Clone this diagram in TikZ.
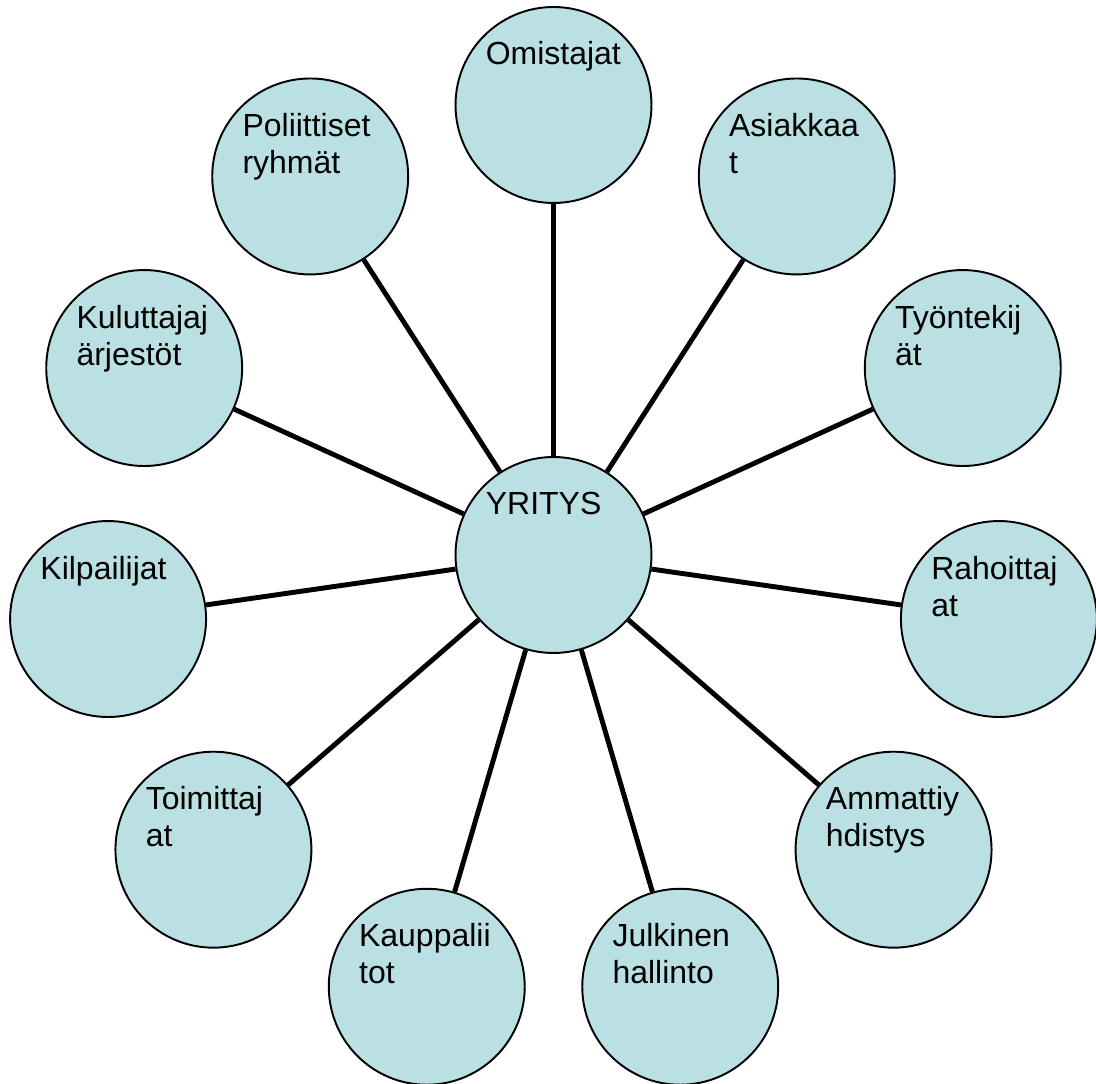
\documentclass[tikz,border=0pt]{standalone}
\usepackage{fontspec}
\setmainfont{Liberation Sans}
\usetikzlibrary{backgrounds}
\definecolor{partyfill}{RGB}{187,224,228}
\tikzset{%
  % circles of the stakeholders and of the firm
            party/.style = {circle, draw=black, line width=1.1pt,
                            fill=partyfill, minimum size=3.92cm, inner sep=0pt},
            partytext/.style = {anchor=base west, align=left, inner sep=0pt,
                            font=\fontsize{18.2}{21}\selectfont},
            twolines/.style = {yshift=-0.74cm},
            link/.style = {draw=black, line width=2.8pt}
}

\begin{document}
\begin{tikzpicture}[x=0.02cm, y=0.02cm]
                \useasboundingbox (-553.5,-529) rectangle (542.5,555);

                \node[party] (yritys) at (0,0) {};
                \node[party] (s1) at (90:450) {};
                \node[party] (s2) at (57.27:450) {};
                \node[party] (s3) at (24.55:450) {};
                \node[party] (s4) at (-8.18:450) {};
                \node[party] (s5) at (-40.91:450) {};
                \node[party] (s6) at (-73.64:450) {};
                \node[party] (s7) at (-106.36:450) {};
                \node[party] (s8) at (-139.09:450) {};
                \node[party] (s9) at (-171.82:450) {};
                \node[party] (s10) at (155.45:450) {};
                \node[party] (s11) at (122.73:450) {};

                \tikzset{every node/.style={partytext, shift={(-68,40)}}}
                \node (t0) at (yritys) {YRITYS};
                \node (t1) at (s1) {Omistajat};
                \node[twolines] (t2) at (s2) {Asiakkaa\\t};
                \node[twolines] (t3) at (s3) {Työntekij\\ät};
                \node[twolines] (t4) at (s4) {Rahoittaj\\at};
                \node[twolines] (t5) at (s5) {Ammattiy\\hdistys};
                \node[twolines] (t6) at (s6) {Julkinen\\hallinto};
                \node[twolines] (t7) at (s7) {Kauppalii\\tot};
                \node[twolines] (t8) at (s8) {Toimittaj\\at};
                \node (t9) at (s9) {Kilpailijat};
                \node[twolines] (t10) at (s10) {Kuluttajaj\\ärjestöt};
                \node[twolines] (t11) at (s11) {Poliittiset\\ryhmät};

                \begin{scope}[on background layer]
                \draw[link] (yritys) -- (s1);
                \draw[link] (yritys) -- (s2);
                \draw[link] (yritys) -- (s3);
                \draw[link] (yritys) -- (s4);
                \draw[link] (yritys) -- (s5);
                \draw[link] (yritys) -- (s6);
                \draw[link] (yritys) -- (s7);
                \draw[link] (yritys) -- (s8);
                \draw[link] (yritys) -- (s9);
                \draw[link] (yritys) -- (s10);
                \draw[link] (yritys) -- (s11);
                \end{scope}

            \end{tikzpicture}
\end{document}
